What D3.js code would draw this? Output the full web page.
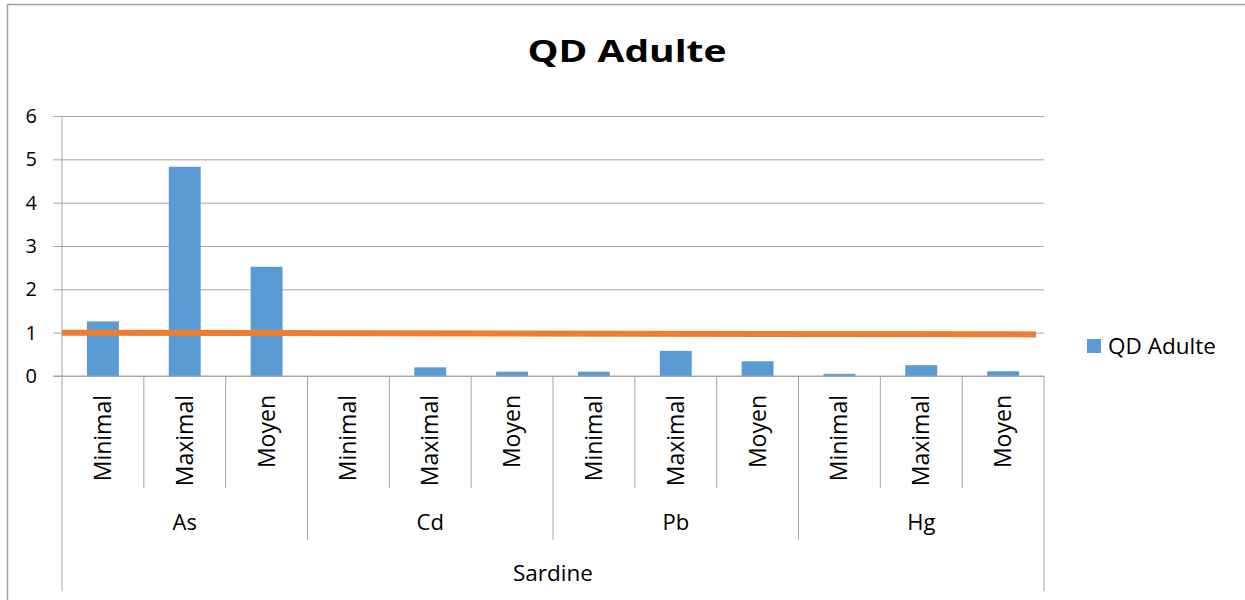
<!DOCTYPE html>
<html>
<head>
<meta charset="utf-8">
<script src="https://cdn.jsdelivr.net/npm/d3@7"></script>
<style>
  body { margin: 0; background: #fff; }
  svg text { font-family: "Open Sans", sans-serif; fill: #000; }
</style>
</head>
<body>
<div class="chart"></div>
<script>
// data
const chartTitle = 'QD Adulte';
const levels = ['Minimal', 'Maximal', 'Moyen'];
const metals = ['As', 'Cd', 'Pb', 'Hg'];
const groupName = 'Sardine';
const qdValues = [1.26, 4.83, 2.52, 0, 0.2, 0.1, 0.1, 0.58, 0.34, 0.05, 0.25, 0.11];
const yTicks = [0, 1, 2, 3, 4, 5, 6];
const limitValues = [1.0, 0.96]; // orange reference line, start / end

const rows = [];
metals.forEach((m, i) => levels.forEach((l, j) => {
    rows.push({ key: m + '-' + l, metal: m, level: l, value: qdValues[i * levels.length + j] });
}));

const svg_width = 1245, svg_height = 600;
const margin = { top: 116, left: 62, right: 201, bottom: 224 };
const chart_width = svg_width - margin.left - margin.right;
const chart_height = svg_height - margin.top - margin.bottom;
const gridColor = '#a6a6a6';

const svg = d3.select('.chart').append('svg')
    .attr('width', svg_width).attr('height', svg_height);

// chart border (only top/left visible)
svg.append('rect')
    .attr('x', 7.5).attr('y', 4.5)
    .attr('width', 1400).attr('height', 800)
    .attr('fill', 'none').attr('stroke', '#a0a0a0').attr('stroke-width', 1.5);

svg.append('text')
    .attr('transform', 'translate(627,62) scale(1.3,1)')
    .attr('text-anchor', 'middle')
    .style('font-size', '30px').style('font-weight', 'bold')
    .text(chartTitle);

const g = svg.append('g').attr('transform', `translate(${margin.left},${margin.top})`);

const xScale = d3.scaleBand().domain(rows.map(d => d.key)).range([0, chart_width]).padding(0);
const yScale = d3.scaleLinear([0, 6], [chart_height, 0]);

// y axis with gridlines
const yAxis = d3.axisLeft(yScale).tickValues(yTicks).tickFormat(d3.format('d'))
    .tickSizeInner(-chart_width).tickSizeOuter(0).tickPadding(25);
const yAxisDraw = g.append('g').attr('class', 'y axis').call(yAxis);
yAxisDraw.select('.domain').remove();
yAxisDraw.selectAll('line').attr('stroke', gridColor).attr('x1', -9);
yAxisDraw.selectAll('text').style('font-size', '20px');

// bars
const barW = xScale.bandwidth() * 0.39;
g.selectAll('.bar').data(rows).join('rect')
    .attr('class', 'bar')
    .attr('x', d => xScale(d.key) + (xScale.bandwidth() - barW) / 2)
    .attr('y', d => yScale(d.value))
    .attr('width', barW)
    .attr('height', d => yScale(0) - yScale(d.value))
    .attr('fill', '#5b9bd5');

// multi-level category axis
const axisG = g.append('g').attr('transform', `translate(0,${chart_height})`);
const lvl1 = 112, lvl2 = 164, lvl3 = 215;
axisG.append('line').attr('x1', -9).attr('x2', chart_width).attr('stroke', gridColor);
const edges = rows.map(d => xScale(d.key)).concat([chart_width]);
axisG.selectAll('.sep').data(edges).join('line')
    .attr('class', 'sep')
    .attr('x1', d => d).attr('x2', d => d)
    .attr('y1', 0)
    .attr('y2', (d, i) => (i === 0 || i === rows.length) ? lvl3 : (i % levels.length === 0 ? lvl2 : lvl1))
    .attr('stroke', gridColor);
g.append('line').attr('x1', 0).attr('x2', 0).attr('y1', 0).attr('y2', chart_height).attr('stroke', gridColor);

axisG.selectAll('.lvl-label').data(rows).join('text')
    .attr('class', 'lvl-label')
    .attr('transform', d => `translate(${xScale(d.key) + xScale.bandwidth() / 2 + 8},19) rotate(-90)`)
    .attr('text-anchor', 'end')
    .style('font-size', '23px')
    .text(d => d.level);

axisG.selectAll('.metal-label').data(metals).join('text')
    .attr('class', 'metal-label')
    .attr('x', (d, i) => xScale(d + '-' + levels[1]) + xScale.bandwidth() / 2)
    .attr('y', 154)
    .attr('text-anchor', 'middle')
    .style('font-size', '22px')
    .text(d => d);

axisG.append('text')
    .attr('x', chart_width / 2).attr('y', 205)
    .attr('text-anchor', 'middle')
    .style('font-size', '22.5px')
    .text(groupName);

// orange reference line
g.append('line')
    .attr('x1', 0).attr('x2', chart_width - 8)
    .attr('y1', yScale(limitValues[0])).attr('y2', yScale(limitValues[1]))
    .attr('stroke', '#ed7d31').attr('stroke-width', 6);

// legend
const legend = svg.append('g').attr('transform', 'translate(1087,339)');
legend.append('rect').attr('width', 14).attr('height', 14).attr('fill', '#5b9bd5');
legend.append('text').attr('x', 21).attr('y', 15).style('font-size', '22.5px').text(chartTitle);
</script>
</body>
</html>
